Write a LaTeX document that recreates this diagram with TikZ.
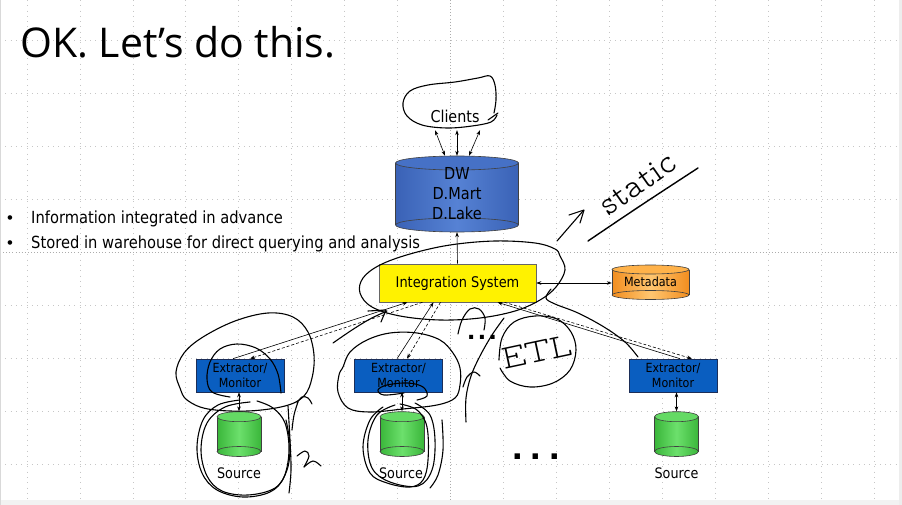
\documentclass[tikz,border=0pt]{standalone}
\usepackage{fontspec}
\setmainfont{DejaVu Sans}[FakeStretch=0.88]
\newfontfamily\titlefont{Open Sans}
\newfontfamily\dotfont{Liberation Sans}
\newfontfamily\handfont{lmmonoproplt10-regular.otf}
\usetikzlibrary{arrows.meta}

\definecolor{dwside}{RGB}{58,98,182}
\definecolor{dwmid}{RGB}{86,130,212}
\definecolor{dwtop}{RGB}{70,113,198}
\definecolor{eblue}{RGB}{10,94,192}
\definecolor{eedge}{RGB}{28,46,88}
\definecolor{grside}{RGB}{58,182,58}
\definecolor{grmid}{RGB}{108,224,108}
\definecolor{grtop}{RGB}{100,218,100}
\definecolor{orside}{RGB}{242,142,32}
\definecolor{ormid}{RGB}{255,198,112}
\definecolor{ortop}{RGB}{255,178,74}

% cylinder: centre x, top-end y, bottom-end y, x radius, y radius, side, middle, top colours
\newcommand\cylbody[8]{%
  \shade[left color=#6,right color=#6,middle color=#7] (#1,#3) ellipse[x radius=#4,y radius=#5];
  \shade[left color=#6,right color=#6,middle color=#7] (#1-#4,#2) rectangle (#1+#4,#3);
  \draw[cylline] (#1,#3) ellipse[x radius=#4,y radius=#5];
  \draw[cylline] (#1-#4,#2) -- (#1-#4,#3) (#1+#4,#2) -- (#1+#4,#3);
  \filldraw[cylline,fill=#8] (#1,#2) ellipse[x radius=#4,y radius=#5];
}

\begin{document}
\begin{tikzpicture}[x=1pt,y=-1pt,
  font=\fontsize{14.7}{17}\selectfont,
  every node/.style={inner sep=0pt},
  grid/.style={gray!45, line width=0.7pt, dash pattern=on 0.7pt off 4.6pt},
  gridmid/.style={gray!65, line width=0.7pt, dash pattern=on 0.9pt off 2.2pt},
  cylline/.style={draw=black!75, line width=0.6pt},
  tip/.style={-{Stealth[length=5pt,width=3.6pt]}, line width=0.6pt},
  tips/.style={{Stealth[length=5pt,width=3.6pt]}-{Stealth[length=5pt,width=3.6pt]}, line width=0.6pt},
  dashtip/.style={tip, dash pattern=on 3pt off 2pt},
  ebox/.style={draw=eedge, fill=eblue, line width=0.6pt, minimum width=88pt, minimum height=33pt,
    align=center, font=\fontsize{12.6}{15}\selectfont},
  srclabel/.style={font=\fontsize{14.5}{16}\selectfont},
  bullet/.style={font=\fontsize{16.7}{20}\selectfont},
  bulletdot/.style={font=\dotfont\fontsize{16.7}{20}\selectfont},
  ink/.style={line width=1.1pt, line cap=round, line join=round},
  hand/.style={font=\handfont\fontsize{34}{34}\selectfont},
]
\useasboundingbox (0,0) rectangle (902,505);
\fill[white] (0,0) rectangle (902,505);

% slide grid
\foreach \k in {0,...,7,9,10,...,16}
  \draw[grid] ({27+52.94*\k},0) -- ({27+52.94*\k},500);
\draw[gridmid] (450.5,0) -- (450.5,500);
\foreach \k in {0,1,2,3,5,6,7,8}
  \draw[grid] (0,{40+53*\k}) -- (899,{40+53*\k});
\draw[gridmid] (0,252) -- (899,252);
\fill[gray!14] (899,0) rectangle (902,505);
\fill[gray!10] (0,500) rectangle (899,505);
\draw[gray!30, line width=1pt] (0.5,0) -- (0.5,505);

% title and bullets
\node[font=\titlefont\fontsize{41}{48}\selectfont, anchor=base west] (title) at (20,58) {OK. Let’s do this.};
\node[bullet, anchor=base west] (b1) at (31,224) {Information integrated in advance};
\node[bullet, anchor=base west] (b2) at (31,248) {Stored in warehouse for direct querying and analysis};
\node[bulletdot, anchor=base] (d1) at (10,224) {•};
\node[bulletdot, anchor=base] (d2) at (10,248) {•};

% warehouse
\cylbody{457}{163}{225}{61.5}{7}{dwside}{dwmid}{dwtop}
\node[font=\fontsize{16.5}{20}\selectfont, align=center, minimum width=123pt, minimum height=76pt] (dw) at (457,194) {DW\\D.Mart\\D.Lake};

\node[font=\fontsize{16.3}{19}\selectfont, minimum height=28pt] (clients) at (455,116) {Clients};

% integration system and metadata
\node[draw=black!60, fill=yellow, line width=0.6pt, minimum width=157pt, minimum height=38pt] (is) at (457.5,283) {Integration System};
\cylbody{650.5}{269.5}{295}{38.5}{4.5}{orside}{ormid}{ortop}
\node[font=\fontsize{12.7}{15}\selectfont, minimum width=77pt, minimum height=35pt] (meta) at (650.5,282) {Metadata};

% extractors
\node[ebox] (e1) at (240,375.5) {Extractor/\\Monitor};
\node[ebox] (e2) at (398.5,375.5) {Extractor/\\Monitor};
\node[ebox] (e3) at (673,375.5) {Extractor/\\Monitor};

% sources
\cylbody{239}{416.7}{451.5}{22}{5}{grside}{grmid}{grtop}
\cylbody{402}{416.7}{451.5}{22}{5}{grside}{grmid}{grtop}
\cylbody{676.5}{416.7}{451.5}{22}{5}{grside}{grmid}{grtop}
\node[minimum width=44pt, minimum height=45pt] (s1) at (239,434) {};
\node[minimum width=44pt, minimum height=45pt] (s2) at (402,434) {};
\node[minimum width=44pt, minimum height=45pt] (s3) at (676.5,434) {};
\node[srclabel] (s1l) at (239,473) {Source};
\node[srclabel] (s2l) at (401,473) {Source};
\node[srclabel] (s3l) at (676.5,473) {Source};

\node[font=\dotfont\bfseries\fontsize{28}{28}\selectfont, anchor=base] (more1) at (482,339) {.\kern3pt.\kern3pt.};
\node[font=\dotfont\bfseries\fontsize{38}{38}\selectfont, anchor=base] (more2) at (536,459.5) {.\kern8pt.\kern8pt.};

% connectors
\draw[tips] ([xshift=-20pt]clients.south) -- ([xshift=-12pt]dw.north);
\draw[tips] ([xshift=2pt]clients.south) -- (dw.north);
\draw[tips] ([xshift=25pt]clients.south) -- ([xshift=12pt]dw.north);
\draw[tip] (is.north) -- (dw.south);
\draw[tips] (is.east) -- (is.east -| meta.west);

\draw[tip] ([xshift=-7pt]e1.north) -- ([xshift=-50pt]is.south);
\draw[dashtip] ([xshift=-35pt]is.south) -- ([xshift=10pt]e1.north);
\draw[tip] ([xshift=-1.5pt]e2.north) -- ([xshift=-24pt]is.south);
\draw[dashtip] ([xshift=-17pt]is.south) -- ([xshift=8.5pt]e2.north);
\draw[tip] ([xshift=7pt]e3.north) -- ([xshift=40pt]is.south);
\draw[dashtip] ([xshift=47pt]is.south) -- ([xshift=19pt]e3.north);

\draw[tips] (e1.south -| s1.north) -- (s1.north);
\draw[tips] (e2.south -| s2.north) -- (s2.north);
\draw[tips] (e3.south -| s3.north) -- (s3.north);

% pen annotations
\draw[ink] plot[smooth, tension=0.6] coordinates {(497,115) (491,122) (472,126) (447,128) (422,125) (407,116) (403,103) (410,91) (428,85) (455,82) (478,78) (490,76) (495,85) (496,100) (494,113)};
\draw[ink] (488,120) -- (498,113);

\draw[ink] plot[smooth cycle, tension=0.6] coordinates {(560,256) (565,270) (556,287) (540,300) (515,311) (480,318) (440,320) (400,316) (372,307) (360,293) (363,278) (380,265) (410,254) (450,245) (495,241) (535,243) (555,249)};
\draw[ink] plot[smooth, tension=0.6] coordinates {(551,289) (546,298) (555,304) (578,313) (604,327) (625,342) (638,357)};
\draw[ink] plot[smooth, tension=0.6] coordinates {(333,343) (352,330) (370,319) (387,311)};
\draw[ink] (368,311) -- (386,310) -- (381,322);
\draw[ink] plot[smooth, tension=0.6] coordinates {(458,334) (462,320) (470,309) (479,309) (485,318) (484,330)};
\draw[ink] plot[smooth, tension=0.6] coordinates {(504,318) (492,335) (480,356) (471,376) (466,398) (466,422)};
\draw[ink] plot[smooth, tension=0.6] coordinates {(463,387) (467,377) (474,372) (480,376)};

\draw[ink] plot[smooth, tension=0.6] coordinates {(499,360) (502,338) (514,322) (535,316) (557,319) (571,332) (576,350) (570,370) (553,383) (530,387) (510,381) (500,368)};
\node[hand, rotate=12] (etl) at (537,352) {ETL};

\node[hand, rotate=35] (static) at (638,184) {static};
\draw[ink] (557,241) -- (583,211);
\draw[ink] (569,215) -- (584,210) -- (580,223);
\draw[ink, line width=1.4pt] plot[smooth, tension=0.6] coordinates {(588,241) (640,206) (698,168)};

\draw[ink] plot[smooth cycle, tension=0.6] coordinates {(180,388) (176,372) (184,353) (203,337) (235,321) (268,313) (293,317) (308,332) (314,355) (312,378) (304,396) (285,406) (248,411) (208,409) (187,400)};
\draw[ink] plot[smooth, tension=0.6] coordinates {(281,393) (278,374) (270,359) (256,348) (237,344) (220,349) (210,362) (207,379) (212,392) (230,397)};
\draw[ink] plot[smooth, tension=0.6] coordinates {(240,400) (218,405) (203,420) (197,447) (202,473) (217,490) (243,497) (270,492) (284,477) (289,450) (285,423) (273,408) (257,401)};
\draw[ink] plot[smooth, tension=0.6] coordinates {(250,402) (225,407) (207,423) (201,450) (207,476) (222,491) (248,495) (275,488) (287,470) (290,445) (286,420)};
\draw[ink] plot[smooth, tension=0.6] coordinates {(288,406) (290,440) (291,470) (289,493)};
\draw[ink] plot[smooth, tension=0.6] coordinates {(297,403) (302,397) (308,398) (312,404)};
\draw[ink] plot[smooth, tension=0.6] coordinates {(292,430) (294,415) (298,402)};
\draw[ink] plot[smooth, tension=0.6] coordinates {(297,456) (305,451) (309,456) (304,467)};
\draw[ink] plot[smooth, tension=0.6] coordinates {(304,467) (313,461) (321,466)};

\draw[ink] plot[smooth cycle, tension=0.6] coordinates {(343,367) (350,352) (367,340) (390,333) (417,333) (440,340) (453,353) (460,368) (460,385) (455,398) (437,405) (403,409) (370,412) (348,408) (338,392) (339,375)};
\draw[ink] plot[smooth, tension=0.6] coordinates {(417,400) (427,396) (423,387) (408,383) (387,385) (378,390) (384,395) (404,393)};
\draw[ink] plot[smooth, tension=0.6] coordinates {(383,407) (370,420) (363,447) (370,473) (387,483) (410,487) (423,480) (428,460) (427,427) (417,410) (400,404)};
\draw[ink] plot[smooth, tension=0.6] coordinates {(395,405) (377,415) (368,440) (372,468) (390,482) (418,486) (432,470) (435,440) (430,415) (415,403)};
\draw[ink] plot[smooth, tension=0.6] coordinates {(442,420) (443,450) (438,475) (430,488)};
\end{tikzpicture}
\end{document}
